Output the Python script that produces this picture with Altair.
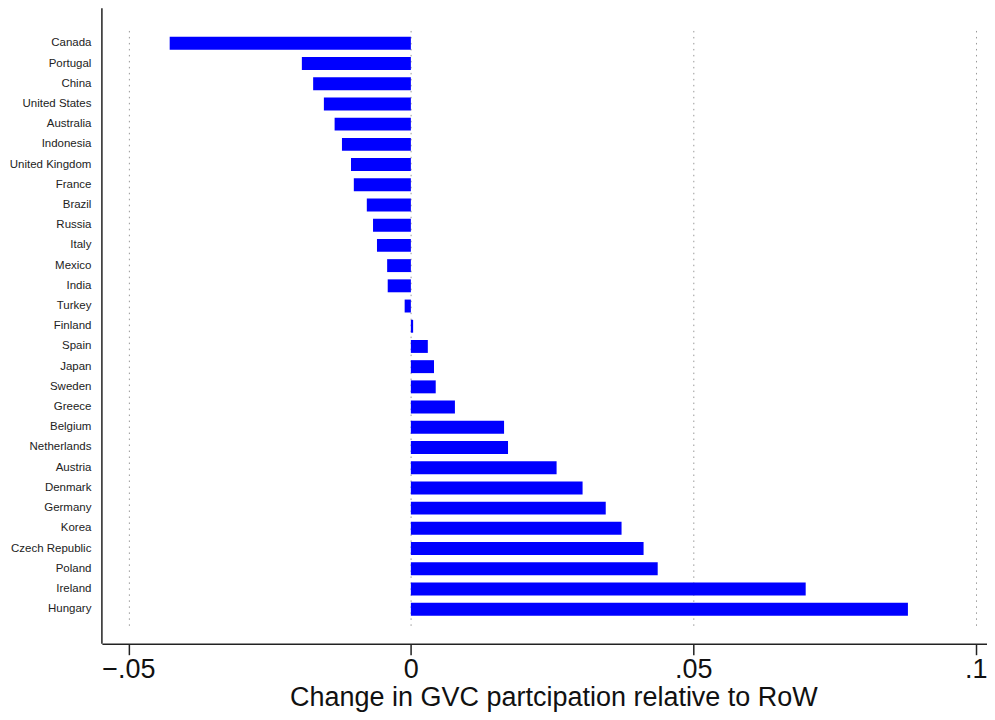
import altair as alt
import pandas as pd

countries = ["Canada", "Portugal", "China", "United States", "Australia", "Indonesia",
             "United Kingdom", "France", "Brazil", "Russia", "Italy", "Mexico", "India",
             "Turkey", "Finland", "Spain", "Japan", "Sweden", "Greece", "Belgium",
             "Netherlands", "Austria", "Denmark", "Germany", "Korea", "Czech Republic",
             "Poland", "Ireland", "Hungary"]
values = [-0.0427, -0.0193, -0.0173, -0.0154, -0.0135, -0.0122, -0.0106, -0.0101,
          -0.0078, -0.0067, -0.0060, -0.0042, -0.0041, -0.0011, 0.0004, 0.0030,
          0.0041, 0.0044, 0.0078, 0.0165, 0.0172, 0.0258, 0.0304, 0.0345, 0.0373,
          0.0412, 0.0437, 0.0699, 0.0880]
ticks = [-0.05, 0, 0.05, 0.1]

df = pd.DataFrame({"country": countries, "value": values})

FONT = "Liberation Sans"
H = 636

bars = alt.Chart(df).mark_bar(color="#0000FF").encode(
    x=alt.X("value:Q",
            scale=alt.Scale(domain=[-0.0547, 0.1020], nice=False, zero=False),
            axis=alt.Axis(values=ticks, title="Change in GVC partcipation relative to RoW",
                          labelExpr="replace(replace(format(datum.value, '.2~f'), '0.', '.'), '-', '\u2013')",
                          labelFontSize=27, titleFontSize=27, labelFont=FONT, titleFont=FONT,
                          labelColor="#111", titleColor="#111", titleFontWeight="normal",
                          tickSize=11, tickColor="#222", tickWidth=1.5,
                          domainColor="#222", domainWidth=1.5, labelPadding=2, titlePadding=2,
                          titleX=452, titleAlign="center",
                          grid=True, gridColor="#999", gridDash=[1.5, 4.5], gridWidth=1)),
    y=alt.Y("country:N", sort=None,
            scale=alt.Scale(paddingInner=0.36, paddingOuter=0.5, range=[18.4, 618]),
            axis=alt.Axis(title=None, ticks=False, labelFontSize=11.5, labelFont=FONT,
                          labelColor="#222", labelPadding=11, domain=False, grid=False)),
)

yline = alt.Chart(pd.DataFrame({"k": [0]})).mark_rule(color="#222", strokeWidth=1.5).encode(
    x=alt.value(0), y=alt.value(0), y2=alt.value(H)
)

chart = alt.layer(bars, yline).properties(
    width=886, height=H,
    autosize=alt.AutoSizeParams(type="none"),
    padding={"left": 94, "top": 0, "right": 0, "bottom": 76},
).configure_view(stroke=None)

chart.save("out.html", embed_options={"renderer": "svg", "actions": False})
